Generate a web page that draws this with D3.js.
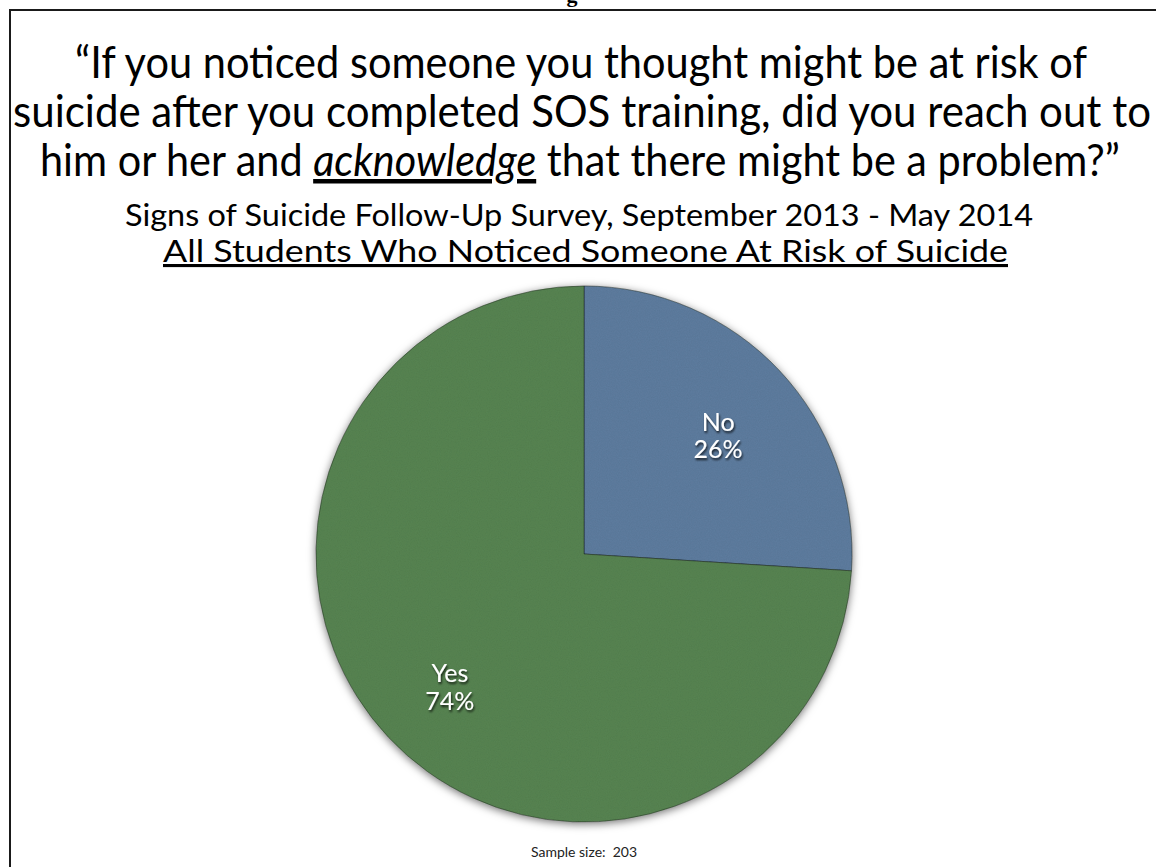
<!DOCTYPE html>
<html>
<head>
<meta charset="utf-8">
<script src="https://cdn.jsdelivr.net/npm/d3@7"></script>
<style>
  html, body { margin: 0; padding: 0; background: #fff; }
  svg { display: block; }
</style>
</head>
<body>
<div id="chart"></div>
<script>

// data
var categories = ["No", "Yes"];
var values = [26, 74];
var sliceColors = ["#5f7ea0", "#598553"];

var titleLines = [
  [{t: "\u201cIf you noticed someone you thought might be at risk of"}],
  [{t: "suicide after you completed SOS training, did you reach out to"}],
  [{t: "him or her and "}, {t: "acknowledge", em: true}, {t: " that there might be a problem?\u201d"}]
];
var subtitleLines = [
  {t: "Signs of Suicide Follow-Up Survey, September 2013 - May 2014", u: false},
  {t: "All Students Who Noticed Someone At Risk of Suicide", u: true}
];
var sampleNote = "Sample size:  203";

var width = 1156, height = 867;
var font = "Lato, 'Open Sans', sans-serif";

var svg = d3.select("#chart").append("svg")
    .attr("width", width)
    .attr("height", height);

var defs = svg.append("defs");

// soft shadow around the pie
var sh = defs.append("filter").attr("id", "pieShadow")
    .attr("x", "-10%").attr("y", "-10%").attr("width", "120%").attr("height", "120%");
sh.append("feDropShadow").attr("dx", 0).attr("dy", 2)
    .attr("stdDeviation", 4).attr("flood-color", "#000").attr("flood-opacity", 0.55);

// paper-ish grain on the slices
var grain = defs.append("filter").attr("id", "grain");
grain.append("feTurbulence").attr("type", "fractalNoise")
    .attr("baseFrequency", 0.9).attr("numOctaves", 2).attr("seed", 3).attr("result", "noise");
grain.append("feColorMatrix").attr("in", "noise").attr("type", "matrix")
    .attr("values", "0 0 0 0 0  0 0 0 0 0  0 0 0 0 0  0 0 0 0.14 0").attr("result", "dots");
grain.append("feComposite").attr("in", "dots").attr("in2", "SourceGraphic")
    .attr("operator", "in").attr("result", "dotsIn");
grain.append("feMerge").selectAll("feMergeNode")
    .data(["SourceGraphic", "dotsIn"]).enter()
    .append("feMergeNode").attr("in", function(d) { return d; });

// text shadow for slice labels
var ts = defs.append("filter").attr("id", "textShadow")
    .attr("x", "-20%").attr("y", "-20%").attr("width", "140%").attr("height", "160%");
ts.append("feDropShadow").attr("dx", 1).attr("dy", 2)
    .attr("stdDeviation", 1).attr("flood-color", "#000").attr("flood-opacity", 0.75);

// frame (top and left edges visible)
svg.append("path")
    .attr("d", "M" + (width + 5) + ",10 H10 V" + (height + 5))
    .attr("fill", "none")
    .attr("stroke", "#1a1a1a")
    .attr("stroke-width", 2);

// bit of page heading cut off above the frame
svg.append("text")
    .attr("x", 572).attr("y", 2)
    .attr("text-anchor", "middle")
    .style("font-family", "'Liberation Serif', serif")
    .style("font-weight", "bold")
    .style("font-size", "22px")
    .text("g");

// title
var titleTargets = [[75, 1087], [13, 1151], [40, 1120]];
var titleBase = [78, 127, 176];
titleLines.forEach(function(line, i) {
  var tx = svg.append("text")
      .attr("x", (titleTargets[i][0] + titleTargets[i][1]) / 2)
      .attr("y", titleBase[i])
      .attr("text-anchor", "middle")
      .style("font-family", font)
      .style("font-size", "45px")
      .attr("fill", "#000");
  line.forEach(function(seg) {
    var s = tx.append("tspan").text(seg.t);
    if (seg.em) {
      s.style("font-style", "italic").style("text-decoration", "underline");
    }
  });
  tx.attr("textLength", titleTargets[i][1] - titleTargets[i][0])
    .attr("lengthAdjust", "spacingAndGlyphs");
});

// subtitles
var subTargets = [[125, 1033], [163, 1008]];
var subBase = [226, 262];
subtitleLines.forEach(function(line, i) {
  svg.append("text")
      .attr("x", (subTargets[i][0] + subTargets[i][1]) / 2)
      .attr("y", subBase[i])
      .attr("text-anchor", "middle")
      .style("font-family", font)
      .style("font-size", "31px")
      .style("text-decoration", line.u ? "underline" : "none")
      .attr("fill", "#000")
      .attr("textLength", subTargets[i][1] - subTargets[i][0])
      .attr("lengthAdjust", "spacingAndGlyphs")
      .text(line.t);
});

// pie
var cx = 584, cy = 554, r = 268;

var pie = d3.pie().sort(null).value(function(d) { return d; });
var arcs = pie(values);
var arc = d3.arc().innerRadius(0).outerRadius(r);
var labelArc = d3.arc().innerRadius(184).outerRadius(184);

var g = svg.append("g").attr("transform", "translate(" + cx + "," + cy + ")");

var shadowLayer = g.append("g").attr("filter", "url(#pieShadow)");
shadowLayer.selectAll("path")
    .data(arcs).enter()
    .append("path")
    .attr("d", arc)
    .attr("fill", function(d, i) { return sliceColors[i]; })
    .attr("filter", "url(#grain)")
    .attr("stroke", "rgba(30,40,30,0.45)")
    .attr("stroke-width", 1);

var labels = g.selectAll("text.slice")
    .data(arcs).enter()
    .append("text")
    .attr("class", "slice")
    .attr("text-anchor", "middle")
    .attr("transform", function(d) {
      var c = labelArc.centroid(d);
      return "translate(" + c[0] + "," + c[1] + ")";
    })
    .style("font-family", font)
    .style("font-size", "25px")
    .attr("fill", "#fff")
    .attr("filter", "url(#textShadow)");

labels.append("tspan").attr("x", 0).attr("dy", "0.1em")
    .text(function(d, i) { return categories[i]; });
labels.append("tspan").attr("x", 0).attr("dy", "1.1em")
    .text(function(d) { return d.data + "%"; });

// sample size note
svg.append("text")
    .attr("x", cx).attr("y", 857)
    .attr("text-anchor", "middle")
    .style("font-family", font)
    .style("font-size", "14px")
    .style("white-space", "pre")
    .attr("fill", "#222")
    .text(sampleNote);

</script>
</body>
</html>
